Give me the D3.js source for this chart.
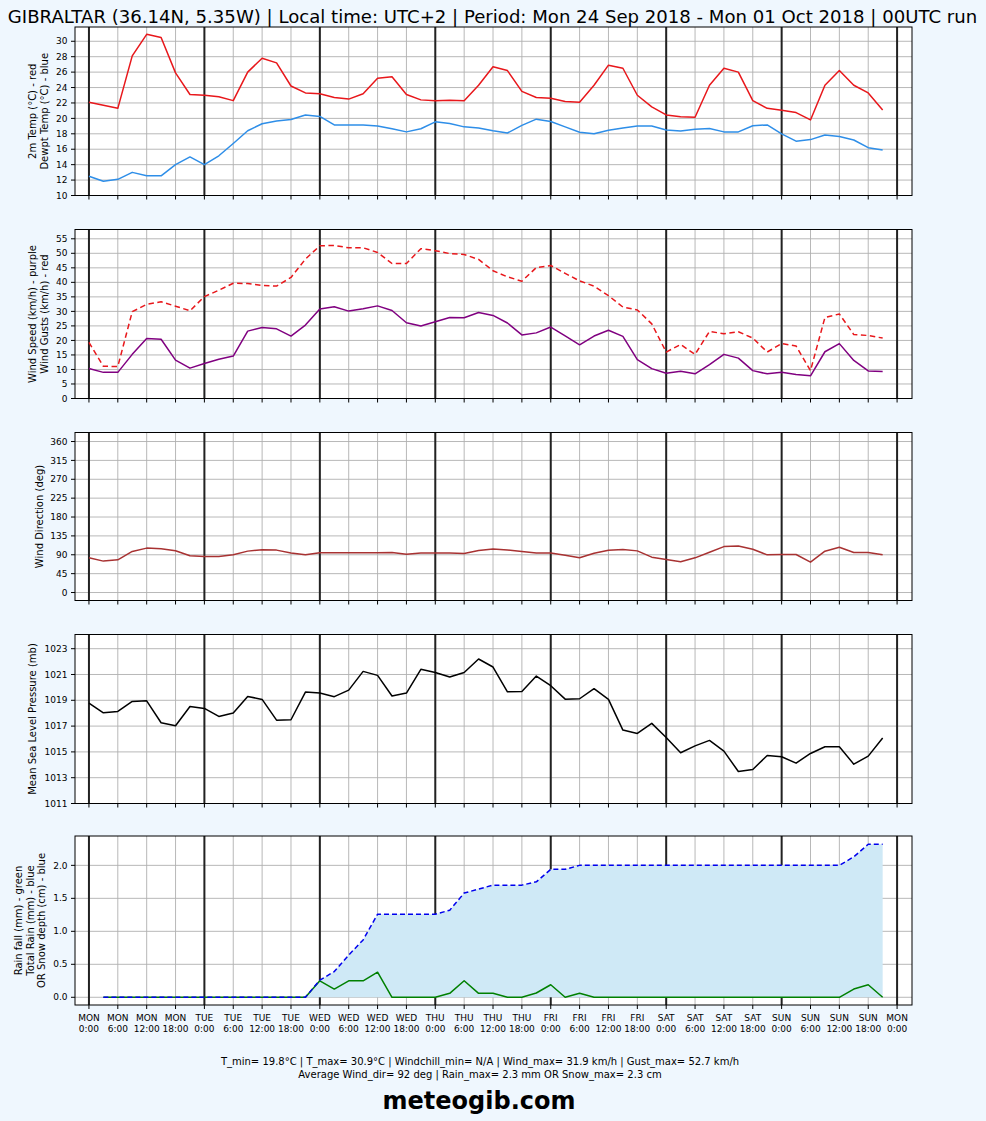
<!DOCTYPE html>
<html><head><meta charset="utf-8">
<script src="https://cdn.jsdelivr.net/npm/d3@7"></script>
<style>
html,body{margin:0;padding:0;background:#eff7fe;}
svg{display:block;font-family:"DejaVu Sans",sans-serif;}
</style></head><body>
<svg id="c" width="986" height="1121"></svg>
<script>
// ---------- DATA ----------
const titleText = "GIBRALTAR (36.14N, 5.35W) | Local time: UTC+2 | Period: Mon 24 Sep 2018 - Mon 01 Oct 2018 | 00UTC run";
const hours = d3.range(0, 166, 3); // forecast hours, every 3 h
const temp = [22.1,21.7,21.3,28.1,30.9,30.5,25.9,23.1,23.0,22.8,22.3,26.0,27.8,27.2,24.2,23.3,23.2,22.7,22.5,23.2,25.2,25.4,23.1,22.4,22.3,22.35,22.3,24.3,26.7,26.2,23.5,22.7,22.6,22.2,22.1,24.3,26.9,26.5,23.0,21.5,20.45,20.2,20.15,24.3,26.5,26.0,22.3,21.3,21.05,20.75,19.8,24.3,26.2,24.3,23.3,21.1];
const dewpt = [12.5,11.85,12.1,13.0,12.55,12.55,14.0,15.0,14.0,15.15,16.75,18.4,19.3,19.65,19.85,20.45,20.25,19.15,19.15,19.15,19.0,18.65,18.25,18.65,19.55,19.35,18.9,18.75,18.4,18.1,19.1,19.9,19.6,18.9,18.2,18.0,18.45,18.75,19.0,19.0,18.5,18.35,18.6,18.7,18.25,18.25,19.05,19.15,18.0,17.05,17.25,17.85,17.65,17.2,16.2,15.9];
const wind = [10.3,9.0,9.0,15.2,20.7,20.4,13.2,10.45,12.05,13.5,14.6,23.2,24.45,24.0,21.5,25.3,30.8,31.6,30.1,30.9,31.9,30.3,26.1,25.0,26.4,27.9,27.8,29.6,28.6,26.0,21.9,22.6,24.6,21.6,18.5,21.5,23.5,21.4,13.4,10.3,8.7,9.4,8.5,11.7,15.2,13.9,9.6,8.5,9.0,8.3,7.8,16.1,18.9,13.1,9.5,9.3];
const gust = [19.3,11.1,11.0,29.9,32.4,33.3,31.8,30.2,35.1,37.3,39.7,39.6,38.9,38.7,41.7,48.0,52.6,52.7,51.9,51.9,50.3,46.5,46.5,51.6,50.9,49.9,49.6,47.9,44.0,41.9,40.4,45.1,45.8,43.1,40.5,38.7,35.4,31.5,30.5,25.7,16.0,18.6,15.2,23.1,22.3,23.0,20.8,16.0,18.9,18.1,9.6,27.9,29.1,22.0,21.7,20.8];
const wdir = [82.8,74.9,78,98,105.9,104.3,99.5,87.6,86,86,90,98.7,101.9,101.1,94,90,94.8,94.8,94.8,94.8,94.8,95.6,91,94,94.5,94.5,93,100,104,101.6,97.7,94.5,94.5,89,82.7,93.7,100.8,102.4,99.3,84.3,78.8,73.3,82.7,96.1,109.5,111,103.2,89.8,90.6,90.6,72.5,98.5,107.9,95.3,95.3,89.8];
const press = [1018.78,1018.03,1018.14,1018.91,1018.96,1017.26,1017.03,1018.52,1018.37,1017.75,1018.01,1019.30,1019.07,1017.46,1017.49,1019.64,1019.56,1019.28,1019.79,1021.24,1020.93,1019.33,1019.56,1021.40,1021.16,1020.80,1021.16,1022.20,1021.58,1019.66,1019.69,1020.88,1020.13,1019.09,1019.12,1019.90,1019.07,1016.69,1016.43,1017.21,1016.12,1014.93,1015.47,1015.89,1015.06,1013.48,1013.64,1014.72,1014.62,1014.13,1014.88,1015.40,1015.40,1014.05,1014.67,1016.07];
// rain series start at hour 3
const rainHours = d3.range(3, 166, 3);
const rainTotal = [0,0,0,0,0,0,0,0,0,0,0,0,0,0,0,0.26,0.39,0.64,0.87,1.26,1.26,1.26,1.26,1.26,1.32,1.58,1.64,1.70,1.70,1.70,1.75,1.94,1.94,2.0,2.0,2.0,2.0,2.0,2.0,2.0,2.0,2.0,2.0,2.0,2.0,2.0,2.0,2.0,2.0,2.0,2.0,2.0,2.13,2.32,2.32];
const rainFall = [0,0,0,0,0,0,0,0,0,0,0,0,0,0,0,0.25,0.125,0.25,0.25,0.38,0,0,0,0,0.06,0.25,0.06,0.06,0,0,0.065,0.19,0,0.06,0,0,0,0,0,0,0,0,0,0,0,0,0,0,0,0,0,0,0.125,0.19,0];
const dayNames = ["MON","TUE","WED","THU","FRI","SAT","SUN","MON"];
const hourLabels = ["0:00","6:00","12:00","18:00"];
const tempTicks = [10,12,14,16,18,20,22,24,26,28,30];
const windTicks = [0,5,10,15,20,25,30,35,40,45,50,55];
const dirTicks = [0,45,90,135,180,225,270,315,360];
const pressTicks = [1011,1013,1015,1017,1019,1021,1023];
const rainTicks = [0.0,0.5,1.0,1.5,2.0];
const footer1 = "T_min= 19.8°C | T_max= 30.9°C | Windchill_min= N/A | Wind_max= 31.9 km/h | Gust_max= 52.7 km/h";
const footer2 = "Average Wind_dir= 92 deg | Rain_max= 2.3 mm OR Snow_max= 2.3 cm";
const brand = "meteogib.com";

// ---------- DRAW ----------
const svg = d3.select("#c");
svg.append("rect").attr("width",986).attr("height",1121).attr("fill","#eff7fe");
const L = 75, R = 912;
const x = d3.scaleLinear().domain([-2.9, 171.1]).range([L, R]);
const xTicks = d3.range(0, 169, 6);
const dayTicks = d3.range(0, 169, 24);

const panels = [
  {top:27, bot:195.5, dom:[10,31.85], ticks:tempTicks, fmt:d=>d, label:["2m Temp (°C) - red","Dewpt Temp (°C) - blue"], lx:[36,48]},
  {top:229.5, bot:398.5, dom:[0,58.2], ticks:windTicks, fmt:d=>d, label:["Wind Speed (km/h) - purple","Wind Gusts (km/h) - red"], lx:[36,48]},
  {top:432.5, bot:600.5, dom:[-19,381.5], ticks:dirTicks, fmt:d=>d, label:["Wind Direction (deg)"], lx:[42.5]},
  {top:634.5, bot:803.5, dom:[1011,1024.1], ticks:pressTicks, fmt:d=>d, label:["Mean Sea Level Pressure (mb)"], lx:[36]},
  {top:836, bot:1005, dom:[-0.117,2.445], ticks:rainTicks, fmt:d3.format(".1f"), label:["Rain fall (mm) - green","Total Rain (mm) - blue","OR Snow depth (cm) - blue"], lx:[22,33.5,45]}
];

panels.forEach((p, i) => {
  const g = svg.append("g");
  const y = d3.scaleLinear().domain(p.dom).range([p.bot, p.top]);
  p.y = y; p.g = g;
  g.append("rect").attr("x",L).attr("y",p.top).attr("width",R-L).attr("height",p.bot-p.top).attr("fill","#fff");
  g.selectAll(".vg").data(xTicks).join("line")
    .attr("x1",d=>x(d)).attr("x2",d=>x(d)).attr("y1",p.top).attr("y2",p.bot)
    .attr("stroke","#b0b0b0").attr("stroke-width",0.9);
  g.selectAll(".hg").data(p.ticks).join("line")
    .attr("x1",L).attr("x2",R).attr("y1",d=>y(d)).attr("y2",d=>y(d))
    .attr("stroke","#b0b0b0").attr("stroke-width",0.9);
  g.selectAll(".dl").data(dayTicks).join("line")
    .attr("x1",d=>x(d)).attr("x2",d=>x(d)).attr("y1",p.top).attr("y2",p.bot)
    .attr("stroke","#222").attr("stroke-width",2);
});

function line(p, xs, ys, color, dash, w) {
  const gen = d3.line().x((d,i)=>x(xs[i])).y(d=>p.y(d));
  p.g.append("path").datum(ys).attr("d",gen).attr("fill","none")
    .attr("stroke",color).attr("stroke-width",w||1.5)
    .attr("stroke-dasharray",dash||null).attr("stroke-linejoin","round");
}

line(panels[0], hours, temp, "#e8171b");
line(panels[0], hours, dewpt, "#2e8ee8");
line(panels[1], hours, gust, "#e8171b", "5.5,3.5");
line(panels[1], hours, wind, "#800080");
line(panels[2], hours, wdir, "#a83232");
line(panels[3], hours, press, "#000");
{
  const p = panels[4];
  const area = d3.area().x((d,i)=>x(rainHours[i])).y0(p.y(0)).y1(d=>p.y(d));
  p.g.append("path").datum(rainTotal).attr("d",area).attr("fill","#cfe9f6");
  line(p, rainHours, rainFall, "#008000");
  line(p, rainHours, rainTotal, "#0000ee", "5,3");
}

panels.forEach((p, i) => {
  const g = p.g, y = p.y;
  g.append("rect").attr("x",L).attr("y",p.top).attr("width",R-L).attr("height",p.bot-p.top)
    .attr("fill","none").attr("stroke","#000").attr("stroke-width",1);
  g.selectAll(".xt").data(xTicks).join("line")
    .attr("x1",d=>x(d)).attr("x2",d=>x(d)).attr("y1",p.bot).attr("y2",p.bot+4)
    .attr("stroke","#000").attr("stroke-width",1);
  g.selectAll(".yt").data(p.ticks).join("line")
    .attr("x1",L-4).attr("x2",L).attr("y1",d=>y(d)).attr("y2",d=>y(d))
    .attr("stroke","#000").attr("stroke-width",1);
  g.selectAll(".yl").data(p.ticks).join("text")
    .attr("x",L-7.5).attr("y",d=>y(d)).attr("dy","0.35em").attr("text-anchor","end")
    .attr("font-size",9).attr("fill","#000").text(p.fmt);
  const cy = (p.top+p.bot)/2;
  p.label.forEach((t, k) => {
    g.append("text").attr("transform",`translate(${p.lx[k]},${cy}) rotate(-90)`)
      .attr("text-anchor","middle").attr("font-size",10).attr("fill","#000").text(t);
  });
});

{
  const p = panels[4];
  const lab = svg.append("g");
  xTicks.forEach((h) => {
    const day = dayNames[Math.floor(h/24)];
    const hl = hourLabels[(h%24)/6];
    const t = lab.append("text").attr("text-anchor","middle").attr("font-size",9).attr("fill","#000");
    t.append("tspan").attr("x",x(h)).attr("y",p.bot+15.5).text(day);
    t.append("tspan").attr("x",x(h)).attr("y",p.bot+26.5).text(hl);
  });
}

svg.append("text").attr("x",492.5).attr("y",23).attr("text-anchor","middle")
  .attr("font-size",18.1).attr("fill","#000").text(titleText);
svg.append("text").attr("x",480).attr("y",1064.5).attr("text-anchor","middle")
  .attr("font-size",10).attr("fill","#000").text(footer1);
svg.append("text").attr("x",480).attr("y",1077.5).attr("text-anchor","middle")
  .attr("font-size",10).attr("fill","#000").text(footer2);
svg.append("text").attr("x",479).attr("y",1109).attr("text-anchor","middle")
  .attr("font-size",24).attr("font-weight","bold").attr("fill","#000").text(brand);
</script>
</body></html>
